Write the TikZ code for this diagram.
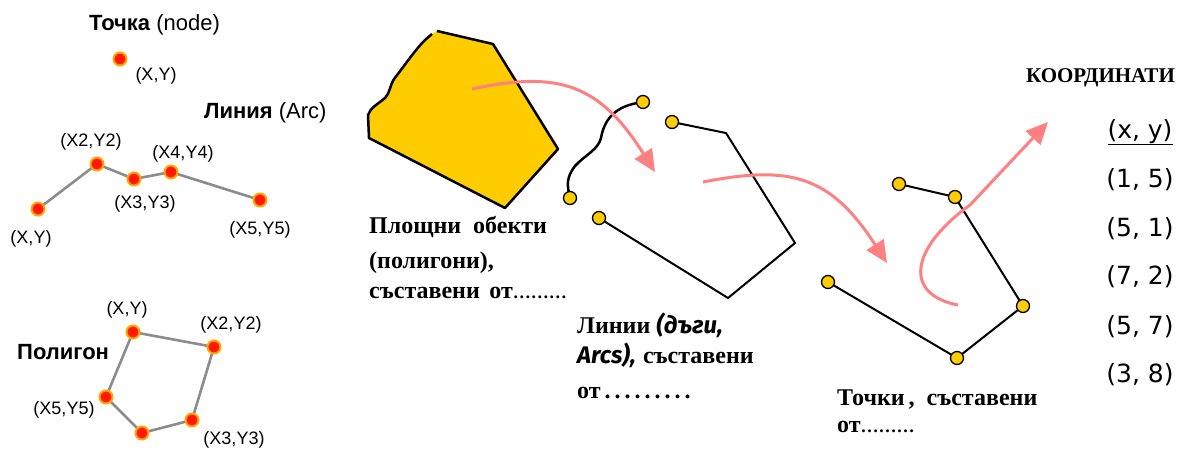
\documentclass[tikz,border=0pt]{standalone}
\usepackage{fontspec}
\setmainfont{Liberation Serif}
\newfontfamily\arialf{Liberation Sans}
\newfontfamily\dejavu{DejaVu Sans}
\newfontfamily\comicf{Fira Sans}
\usetikzlibrary{arrows.meta}
\pgfdeclarelayer{edges}
\pgfsetlayers{edges,main}
\definecolor{vtxred}{HTML}{FF1A00}
\definecolor{vtxring}{HTML}{FFA500}
\definecolor{gold}{HTML}{FFCC00}
\definecolor{pinkarrow}{HTML}{FF8080}
\definecolor{edgegray}{HTML}{8C8C8C}
\tikzset{
  vtx/.style={circle, fill=vtxred, draw=vtxring, line width=2pt, minimum size=13pt, inner sep=0pt},
  gdot/.style={circle, fill=gold, draw=black, line width=1.3pt, minimum size=13pt, inner sep=0pt},
  gedge/.style={draw=edgegray, line width=2.6pt},
  bedge/.style={draw=black, line width=2pt},
  lbl/.style={font=\arialf\fontsize{18}{20}\selectfont, inner sep=0pt},
  ttl/.style={font=\arialf\fontsize{22}{25}\selectfont, inner sep=0pt, anchor=base west},
  sertxt/.style={font=\fontsize{24}{28}\selectfont\bfseries, inner sep=0pt, anchor=base west},
  coordtxt/.style={font=\dejavu\fontsize{25}{28}\selectfont, inner sep=0pt, anchor=base},
  flow/.style={draw=pinkarrow, line width=3pt, -{Triangle[length=22pt,width=20pt]}}
}
\begin{document}
\begin{tikzpicture}[x=1pt,y=-1pt]
\useasboundingbox (0,0) rectangle (1187,451);

% ---------- left: point, line, polygon ----------
\node[ttl] (tpt) at (89,30) {\textbf{Точка} (node)};
\node[vtx] (p0) at (120,59) {};
\node[lbl] (lp0) at (156,76) {(X,Y)};

\node[ttl] (tln) at (204,118) {\textbf{Линия} (Arc)};
\node[vtx] (a1) at (38,209) {};
\node[vtx] (a2) at (97,164) {};
\node[vtx] (a3) at (134,179) {};
\node[vtx] (a4) at (171,172) {};
\node[vtx] (a5) at (260,200) {};
\begin{pgfonlayer}{edges}
  \draw[gedge] (a1.center) -- (a2.center) -- (a3.center) -- (a4.center) -- (a5.center);
\end{pgfonlayer}
\node[lbl] (la1) at (31,239) {(X,Y)};
\node[lbl] (la2) at (91,142) {(X2,Y2)};
\node[lbl] (la3) at (145,204) {(X3,Y3)};
\node[lbl] (la4) at (183,154) {(X4,Y4)};
\node[lbl] (la5) at (260,230) {(X5,Y5)};

\node[ttl] (tpg) at (17,359) {\textbf{Полигон}};
\node[vtx] (q1) at (133,332) {};
\node[vtx] (q2) at (214,347) {};
\node[vtx] (q3) at (192,420) {};
\node[vtx] (q4) at (142,433) {};
\node[vtx] (q5) at (106,397) {};
\begin{pgfonlayer}{edges}
  \draw[gedge] (q1.center) -- (q2.center) -- (q3.center) -- (q4.center) -- (q5.center) -- cycle;
\end{pgfonlayer}
\node[lbl] (lq1) at (127,310) {(X,Y)};
\node[lbl] (lq2) at (231,325) {(X2,Y2)};
\node[lbl] (lq3) at (234,440) {(X3,Y3)};
\node[lbl] (lq5) at (64,410) {(X5,Y5)};

% ---------- middle: filled area ----------
\filldraw[fill=gold, draw=black, line width=2.5pt, line join=round]
  (437,31) -- (493,44) -- (558,149) -- (505,208) -- (369,138) -- (368,115)
  .. controls (370,108) and (378,104) .. (385,98)
  .. controls (390,93) and (390,85) .. (394,79)
  .. controls (405,65) and (415,50) .. (425,40)
  -- (432,34);

% wavy arc with its two end points
\node[gdot] (w1) at (570,198) {};
\node[gdot] (w2) at (643,102) {};
\begin{pgfonlayer}{edges}
\draw[bedge, line width=2.5pt] (w1.center) .. controls (567,185) and (566,178) .. (575,166)
  .. controls (585,155) and (598,150) .. (601,138)
  .. controls (604,122) and (612,106) .. (w2.center);
\end{pgfonlayer}

% open line
\node[gdot] (m1) at (672,122) {};
\coordinate (m2) at (726,133);
\coordinate (m3) at (795,243);
\coordinate (m4) at (728,298);
\node[gdot] (m5) at (599,218) {};
\begin{pgfonlayer}{edges}
\draw[bedge, line join=miter] (m1.center) -- (m2) -- (m3) -- (m4) -- (m5.center);
\end{pgfonlayer}

% points on the right
\node[gdot] (r1) at (899,184) {};
\node[gdot] (r2) at (955,197) {};
\node[gdot] (r3) at (1023,306) {};
\node[gdot] (r4) at (957,358) {};
\node[gdot] (r5) at (828,282) {};
\begin{pgfonlayer}{edges}
\draw[bedge] (r1.center) -- (r2.center) -- (r3.center) -- (r4.center) -- (r5.center);
\end{pgfonlayer}

% flow arrows
\coordinate (f1s) at (472,89);
\coordinate (f1e) at (655,172);
\draw[flow] (f1s) .. controls (560,70) and (600,85) .. (f1e);
\coordinate (f2s) at (703,182);
\coordinate (f2e) at (887,263);
\draw[flow] (f2s) .. controls (790,165) and (830,175) .. (f2e);
\coordinate (f3s) at (958,305);
\coordinate (f3e) at (1048,122);
\draw[flow] (f3s) .. controls (905,295) and (908,250) .. (970,205) -- (f3e);

% ---------- captions ----------
\node[sertxt] (c1) at (369,233) {Площни\hspace{0.5em}обекти};
\node[sertxt] (c2) at (369,268) {(полигони),};
\node[sertxt] (c3) at (369,298) {съставени\hspace{0.4em}от\fontsize{18}{20}\selectfont………};

\node[sertxt] (d1) at (577,333) {Линии {\comicf\itshape (дъги,}};
\node[sertxt] (d2) at (577,363) {{\comicf\itshape Arcs),}\hspace{0.3em}съставени};
\node[sertxt] (d3) at (577,398) {от\,.\,.\,.\,.\,.\,.\,.\,.\,.};

\node[sertxt] (e1) at (837,405) {Точки\,,\hspace{0.5em}съставени};
\node[sertxt] (e2) at (837,432) {от\fontsize{18}{20}\selectfont………};

% ---------- coordinate table ----------
\node[font=\fontsize{21}{24}\selectfont\bfseries, inner sep=0pt, anchor=base east] (kh) at (1175,82) {КООРДИНАТИ};
\node[coordtxt] (k0) at (1140,138) {\underline{(x, y)}};
\node[coordtxt] (k1) at (1140,187) {(1, 5)};
\node[coordtxt] (k2) at (1140,236) {(5, 1)};
\node[coordtxt] (k3) at (1140,284) {(7, 2)};
\node[coordtxt] (k4) at (1140,334) {(5, 7)};
\node[coordtxt] (k5) at (1140,382) {(3, 8)};
\end{tikzpicture}
\end{document}
